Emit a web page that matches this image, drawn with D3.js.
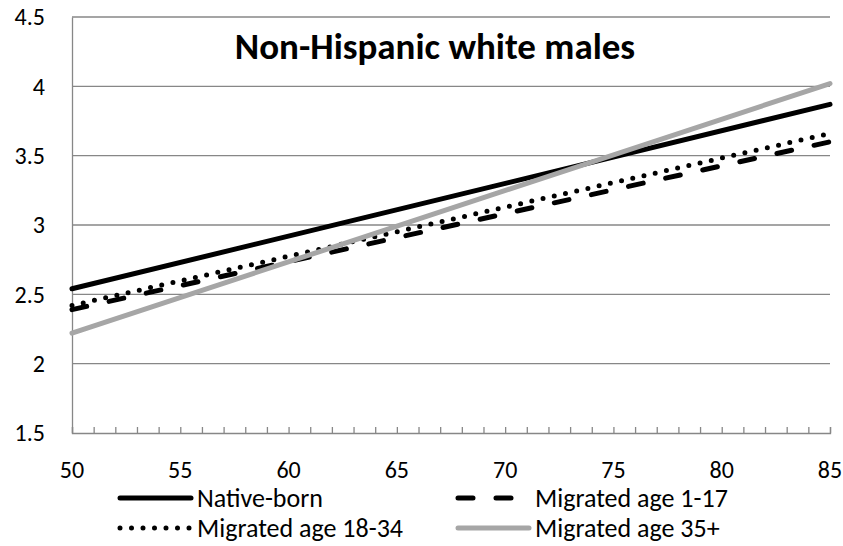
<!DOCTYPE html>
<html>
<head>
<meta charset="utf-8">
<script src="https://cdn.jsdelivr.net/npm/d3@7"></script>
<style>
  body { margin: 0; background: #fff; }
  svg text { font-family: Carlito, Calibri, "Open Sans", sans-serif; fill: #000; }
</style>
</head>
<body>
<div id="chart"></div>
<script>
  // data
  const ages = [50, 85];
  const nativeBorn = [2.54, 3.87];
  const migrated1to17 = [2.39, 3.60];
  const migrated18to34 = [2.42, 3.66];
  const migrated35plus = [2.22, 4.02];
  const xTickLabels = [50, 55, 60, 65, 70, 75, 80, 85];
  const yTickLabels = [1.5, 2, 2.5, 3, 3.5, 4, 4.5];
  const chartTitle = "Non-Hispanic white males";

  const series = [
    { name: "Native-born", values: nativeBorn, color: "#000", dash: null },
    { name: "Migrated age 1-17", values: migrated1to17, color: "#000", dash: "15,23" },
    { name: "Migrated age 18-34", values: migrated18to34, color: "#000", dash: "0,11.5" },
    { name: "Migrated age 35+", values: migrated35plus, color: "#a6a6a6", dash: null }
  ];

  // config
  const width = 843;
  const height = 546;
  const margin = { top: 17, right: 13, bottom: 113, left: 72 };
  const gridColor = "#878787";

  const xScale = d3.scaleLinear()
    .domain([50, 85])
    .range([margin.left, width - margin.right]);

  const yScale = d3.scaleLinear()
    .domain([1.5, 4.5])
    .range([height - margin.bottom, margin.top]);

  const svg = d3.select("#chart")
    .append("svg")
    .attr("width", width)
    .attr("height", height);

  // gridlines
  svg.append("g")
    .selectAll("line")
    .data(yTickLabels.filter(d => d > 1.5))
    .join("line")
    .attr("x1", margin.left)
    .attr("x2", width - margin.right)
    .attr("y1", d => yScale(d))
    .attr("y2", d => yScale(d))
    .attr("stroke", gridColor)
    .attr("stroke-width", 1.3);

  // y axis
  const yAxis = d3.axisLeft(yScale)
    .tickValues(yTickLabels)
    .tickFormat(d3.format("~g"))
    .tickSize(0)
    .tickPadding(27);

  svg.append("g")
    .attr("transform", "translate(" + margin.left + ",0)")
    .call(yAxis)
    .call(g => g.select(".domain").attr("stroke", gridColor).attr("stroke-width", 1.3))
    .call(g => g.selectAll(".tick text")
      .attr("font-size", 24)
      .attr("font-family", null));

  // x axis: minor ticks every year pointing up, labels every 5
  const xAxis = d3.axisBottom(xScale)
    .tickValues(d3.range(50, 86, 1))
    .tickSize(-6)
    .tickFormat("");

  svg.append("g")
    .attr("transform", "translate(0," + yScale(1.5) + ")")
    .call(xAxis)
    .call(g => g.select(".domain").attr("stroke", gridColor).attr("stroke-width", 1.3))
    .call(g => g.selectAll(".tick line").attr("stroke", gridColor).attr("stroke-width", 1.3));

  svg.append("g")
    .selectAll("text")
    .data(xTickLabels)
    .join("text")
    .attr("x", d => xScale(d))
    .attr("y", 478)
    .attr("text-anchor", "middle")
    .attr("font-size", 24)
    .text(d => d);

  // lines
  const line = d3.line()
    .x((d, i) => xScale(ages[i]))
    .y(d => yScale(d));

  const drawOrder = [1, 2, 0, 3];
  svg.append("g")
    .selectAll("path")
    .data(drawOrder.map(i => series[i]))
    .join("path")
    .attr("d", d => line(d.values))
    .attr("fill", "none")
    .attr("stroke", d => d.color)
    .attr("stroke-width", 5)
    .attr("stroke-linecap", "round")
    .attr("stroke-dasharray", d => d.dash);

  // title
  svg.append("text")
    .attr("x", 435)
    .attr("y", 59)
    .attr("text-anchor", "middle")
    .attr("font-size", 37)
    .attr("font-weight", "bold")
    .text(chartTitle);

  // legend
  const legendPos = [
    { x: 120, y: 498 },
    { x: 458, y: 498 },
    { x: 120, y: 528 },
    { x: 458, y: 528 }
  ];

  const legend = svg.append("g")
    .selectAll("g")
    .data(series)
    .join("g")
    .attr("transform", (d, i) => "translate(" + legendPos[i].x + "," + legendPos[i].y + ")");

  legend.append("line")
    .attr("x1", 0)
    .attr("x2", 71)
    .attr("stroke", d => d.color)
    .attr("stroke-width", 5)
    .attr("stroke-linecap", "round")
    .attr("stroke-dasharray", d => d.dash);

  legend.append("text")
    .attr("x", 77)
    .attr("dy", "0.33em")
    .attr("font-size", 26)
    .text(d => d.name);
</script>
</body>
</html>
